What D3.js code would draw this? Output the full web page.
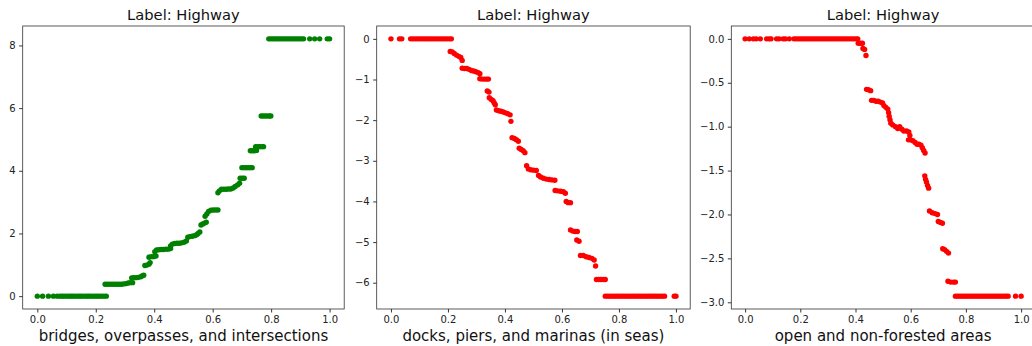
<!DOCTYPE html>
<html>
<head>
<meta charset="utf-8">
<script src="https://cdn.jsdelivr.net/npm/d3@7"></script>
<style>
  body { margin: 0; background: #fff; }
  svg { display: block; font-family: "DejaVu Sans", sans-serif; }
</style>
</head>
<body>
<svg id="chart" width="1032" height="346"></svg>
<script>
// Values, one [x, y] list per panel
const bridgesPts = [
  [0.000,0],[0.018,0],[0.038,0],[0.055,0],[0.068,0],[0.078,0],[0.085,0],[0.092,0],[0.100,0],[0.108,0],
  [0.115,0],[0.122,0],[0.130,0],[0.138,0],[0.145,0],[0.152,0],[0.160,0],[0.168,0],[0.175,0],[0.182,0],
  [0.190,0],[0.198,0],[0.205,0],[0.212,0],[0.220,0],[0.228,0],[0.236,0],
  [0.232,0.38],[0.240,0.38],[0.248,0.38],[0.256,0.38],[0.264,0.38],[0.272,0.38],[0.280,0.38],[0.288,0.38],
  [0.296,0.39],[0.304,0.40],[0.311,0.42],[0.318,0.43],[0.326,0.43],
  [0.323,0.58],[0.330,0.59],[0.338,0.59],[0.346,0.60],[0.354,0.62],[0.360,0.65],[0.364,0.67],
  [0.368,0.98],[0.375,0.99],[0.382,1.02],[0.386,1.07],
  [0.382,1.24],[0.390,1.26],[0.398,1.26],[0.406,1.28],
  [0.402,1.42],[0.408,1.47],[0.416,1.48],[0.424,1.49],[0.432,1.49],[0.440,1.50],[0.448,1.50],[0.456,1.52],
  [0.456,1.60],[0.462,1.66],[0.470,1.68],[0.478,1.69],[0.486,1.69],[0.494,1.70],[0.502,1.72],[0.510,1.76],
  [0.515,1.88],[0.522,1.90],[0.530,1.91],[0.538,1.93],[0.545,1.96],[0.550,2.00],[0.556,2.05],
  [0.560,2.27],[0.566,2.30],[0.572,2.33],[0.578,2.36],
  [0.574,2.55],[0.580,2.62],
  [0.586,2.70],[0.594,2.74],[0.602,2.75],[0.610,2.75],[0.618,2.75],
  [0.618,3.30],[0.623,3.36],
  [0.630,3.41],[0.638,3.41],[0.646,3.41],[0.654,3.42],[0.662,3.42],[0.670,3.45],
  [0.677,3.50],[0.685,3.55],[0.692,3.60],
  [0.694,3.76],[0.701,3.76],[0.708,3.76],
  [0.700,4.10],[0.707,4.10],[0.714,4.10],[0.721,4.10],[0.728,4.10],[0.735,4.10],
  [0.729,4.64],[0.736,4.64],[0.743,4.64],[0.750,4.65],
  [0.747,4.77],[0.754,4.77],[0.761,4.77],[0.768,4.77],[0.774,4.77],
  [0.766,5.75],[0.773,5.75],[0.780,5.75],[0.787,5.75],[0.794,5.75],[0.799,5.75],
  [0.792,8.21],[0.799,8.21],[0.806,8.21],[0.813,8.21],[0.820,8.21],[0.827,8.21],[0.834,8.21],[0.841,8.21],
  [0.848,8.21],[0.855,8.21],[0.862,8.21],[0.869,8.21],[0.876,8.21],[0.883,8.21],[0.890,8.21],[0.897,8.21],
  [0.904,8.21],[0.911,8.21],[0.932,8.21],[0.949,8.21],[0.966,8.21],[0.992,8.21],[1.000,8.21]
];

const docksPts = [
  [0.000,0],[0.030,0],[0.038,0],[0.069,0],[0.077,0],[0.085,0],[0.093,0],[0.101,0],[0.109,0],[0.117,0],
  [0.125,0],[0.133,0],[0.141,0],[0.149,0],[0.157,0],[0.165,0],[0.173,0],[0.181,0],[0.189,0],[0.197,0],
  [0.205,0],[0.212,0],
  [0.208,-0.31],[0.215,-0.32],[0.222,-0.36],[0.230,-0.40],[0.238,-0.43],[0.245,-0.46],[0.250,-0.53],
  [0.250,-0.72],[0.258,-0.73],[0.266,-0.73],[0.274,-0.75],[0.282,-0.78],[0.290,-0.79],[0.298,-0.81],[0.306,-0.83],
  [0.312,-0.86],[0.312,-0.98],[0.320,-0.99],[0.328,-0.99],[0.336,-0.99],[0.342,-0.99],
  [0.338,-1.28],[0.344,-1.31],
  [0.345,-1.45],[0.352,-1.49],[0.358,-1.52],[0.362,-1.57],[0.366,-1.62],
  [0.370,-1.75],[0.378,-1.77],[0.386,-1.78],[0.394,-1.80],[0.402,-1.82],[0.410,-1.84],[0.418,-1.87],
  [0.421,-2.03],
  [0.425,-2.43],[0.433,-2.45],[0.440,-2.48],[0.447,-2.52],
  [0.450,-2.69],[0.457,-2.72],[0.464,-2.75],[0.470,-2.80],
  [0.476,-3.12],[0.482,-3.20],[0.490,-3.22],[0.500,-3.23],[0.510,-3.24],
  [0.518,-3.36],[0.525,-3.40],[0.535,-3.43],[0.545,-3.45],[0.555,-3.46],[0.565,-3.47],[0.575,-3.48],
  [0.576,-3.73],[0.585,-3.74],[0.595,-3.75],[0.605,-3.76],[0.612,-3.80],
  [0.615,-4.00],[0.622,-4.03],[0.630,-4.03],
  [0.630,-4.70],[0.638,-4.73],[0.646,-4.74],[0.654,-4.74],
  [0.652,-4.95],[0.660,-4.98],
  [0.665,-5.33],[0.675,-5.33],[0.685,-5.36],[0.695,-5.38],[0.705,-5.40],[0.713,-5.44],
  [0.718,-5.59],
  [0.721,-5.92],[0.729,-5.92],[0.737,-5.92],[0.745,-5.92],[0.752,-5.92],
  [0.752,-6.33],[0.760,-6.33],[0.768,-6.33],[0.776,-6.33],[0.784,-6.33],[0.792,-6.33],[0.800,-6.33],
  [0.808,-6.33],[0.816,-6.33],[0.824,-6.33],[0.832,-6.33],[0.840,-6.33],[0.848,-6.33],[0.856,-6.33],
  [0.864,-6.33],[0.872,-6.33],[0.880,-6.33],[0.888,-6.33],[0.896,-6.33],[0.904,-6.33],[0.912,-6.33],
  [0.920,-6.33],[0.928,-6.33],[0.936,-6.33],[0.944,-6.33],[0.952,-6.33],[0.960,-6.33],
  [0.994,-6.33],[1.000,-6.33]
];

const openPts = [
  [0.000,0],[0.015,0],[0.030,0],[0.040,0],[0.055,0],[0.078,0],[0.087,0],[0.094,0],[0.114,0],[0.123,0],
  [0.138,0],[0.146,0],[0.160,0],[0.177,0],[0.185,0],[0.193,0],[0.201,0],[0.209,0],[0.217,0],[0.225,0],
  [0.233,0],[0.241,0],[0.249,0],[0.257,0],[0.265,0],[0.273,0],[0.281,0],[0.289,0],[0.297,0],[0.305,0],
  [0.313,0],[0.321,0],[0.329,0],[0.337,0],[0.345,0],[0.353,0],[0.361,0],[0.369,0],[0.377,0],[0.385,0],
  [0.393,0],[0.401,0],[0.408,0],
  [0.410,-0.05],[0.418,-0.05],[0.425,-0.05],
  [0.427,-0.11],[0.433,-0.12],
  [0.438,-0.19],
  [0.440,-0.575],[0.447,-0.58],[0.455,-0.59],
  [0.458,-0.70],[0.466,-0.70],[0.474,-0.71],[0.482,-0.71],[0.490,-0.72],[0.498,-0.73],
  [0.503,-0.76],[0.510,-0.78],[0.517,-0.80],
  [0.520,-0.84],[0.522,-0.88],[0.525,-0.92],[0.528,-0.96],[0.535,-0.98],
  [0.545,-1.00],[0.553,-1.02],[0.560,-1.00],[0.568,-1.03],[0.575,-1.05],[0.585,-1.05],[0.593,-1.06],[0.597,-1.10],
  [0.592,-1.15],[0.600,-1.15],[0.608,-1.16],[0.616,-1.18],[0.623,-1.20],
  [0.630,-1.20],[0.637,-1.21],[0.642,-1.24],[0.647,-1.27],[0.652,-1.30],
  [0.651,-1.56],[0.654,-1.60],[0.657,-1.63],[0.661,-1.67],[0.665,-1.70],
  [0.668,-1.96],[0.678,-1.98],[0.688,-1.99],[0.697,-2.00],
  [0.700,-2.08],[0.708,-2.09],[0.715,-2.10],
  [0.716,-2.39],[0.723,-2.40],[0.730,-2.42],[0.737,-2.44],
  [0.735,-2.76],[0.745,-2.77],[0.755,-2.77],[0.762,-2.77],
  [0.762,-2.93],[0.770,-2.93],[0.778,-2.93],[0.786,-2.93],[0.794,-2.93],[0.802,-2.93],[0.810,-2.93],
  [0.818,-2.93],[0.826,-2.93],[0.834,-2.93],[0.842,-2.93],[0.850,-2.93],[0.858,-2.93],[0.866,-2.93],
  [0.874,-2.93],[0.882,-2.93],[0.890,-2.93],[0.898,-2.93],[0.906,-2.93],[0.914,-2.93],[0.922,-2.93],
  [0.930,-2.93],[0.938,-2.93],[0.946,-2.93],[0.953,-2.93],[0.980,-2.93],[1.000,-2.93]
];

const titles = ["Label: Highway", "Label: Highway", "Label: Highway"];
const xLabels = ["bridges, overpasses, and intersections", "docks, piers, and marinas (in seas)", "open and non-forested areas"];
const xTicks = [0, 0.2, 0.4, 0.6, 0.8, 1.0];
const yTicksBridges = [0, 2, 4, 6, 8];
const yTicksDocks = [0, -1, -2, -3, -4, -5, -6];
const yTicksOpen = [0, -0.5, -1.0, -1.5, -2.0, -2.5, -3.0];

const panels = [
  { pts: bridgesPts, color: "green", yTicks: yTicksBridges, yFmt: d3.format("d"), left: 22.7, width: 321.5 },
  { pts: docksPts, color: "red", yTicks: yTicksDocks, yFmt: d3.format("d"), left: 376.7, width: 313.5 },
  { pts: openPts, color: "red", yTicks: yTicksOpen, yFmt: d3.format(".1f"), left: 731.3, width: 303.6 }
];

const plotTop = 26, plotHeight = 283;
const tickLen = 3.5;
const svg = d3.select("#chart");

// pad a [min,max] extent by 5% each side, like matplotlib's default margins
function padded(ext) {
  const m = (ext[1] - ext[0]) * 0.05;
  return [ext[0] - m, ext[1] + m];
}

panels.forEach((p, i) => {
  const x = d3.scaleLinear()
    .domain(padded(d3.extent(p.pts, d => d[0])))
    .range([p.left, p.left + p.width]);
  const y = d3.scaleLinear()
    .domain(padded(d3.extent(p.pts, d => d[1])))
    .range([plotTop + plotHeight, plotTop]);

  const g = svg.append("g");

  g.append("g")
    .selectAll("circle")
    .data(p.pts)
    .join("circle")
    .attr("cx", d => x(d[0]))
    .attr("cy", d => y(d[1]))
    .attr("r", 2.7)
    .attr("fill", p.color);

  const xAxis = d3.axisBottom(x)
    .tickValues(xTicks)
    .tickFormat(d3.format(".1f"))
    .tickSize(tickLen)
    .tickPadding(3.5);
  g.append("g")
    .attr("transform", `translate(0,${plotTop + plotHeight})`)
    .call(xAxis)
    .call(a => a.select(".domain").remove());

  const yAxis = d3.axisLeft(y)
    .tickValues(p.yTicks)
    .tickFormat(p.yFmt)
    .tickSize(tickLen)
    .tickPadding(3.5);
  g.append("g")
    .attr("transform", `translate(${p.left},0)`)
    .call(yAxis)
    .call(a => a.select(".domain").remove());

  g.selectAll(".tick line").attr("stroke", "#000").attr("stroke-width", 0.8);
  g.selectAll(".tick text")
    .attr("fill", "#222")
    .style("font-family", "DejaVu Sans")
    .style("font-size", "10px");

  // frame
  g.append("rect")
    .attr("x", p.left)
    .attr("y", plotTop)
    .attr("width", p.width)
    .attr("height", plotHeight)
    .attr("fill", "none")
    .attr("stroke", "#333")
    .attr("stroke-width", 0.8);

  g.append("text")
    .attr("x", p.left + p.width / 2)
    .attr("y", 19.5)
    .attr("text-anchor", "middle")
    .style("font-size", "14.7px")
    .attr("fill", "#111")
    .text(titles[i]);

  g.append("text")
    .attr("x", p.left + p.width / 2)
    .attr("y", 340.5)
    .attr("text-anchor", "middle")
    .style("font-size", "15px")
    .attr("fill", "#111")
    .text(xLabels[i]);
});
</script>
</body>
</html>
